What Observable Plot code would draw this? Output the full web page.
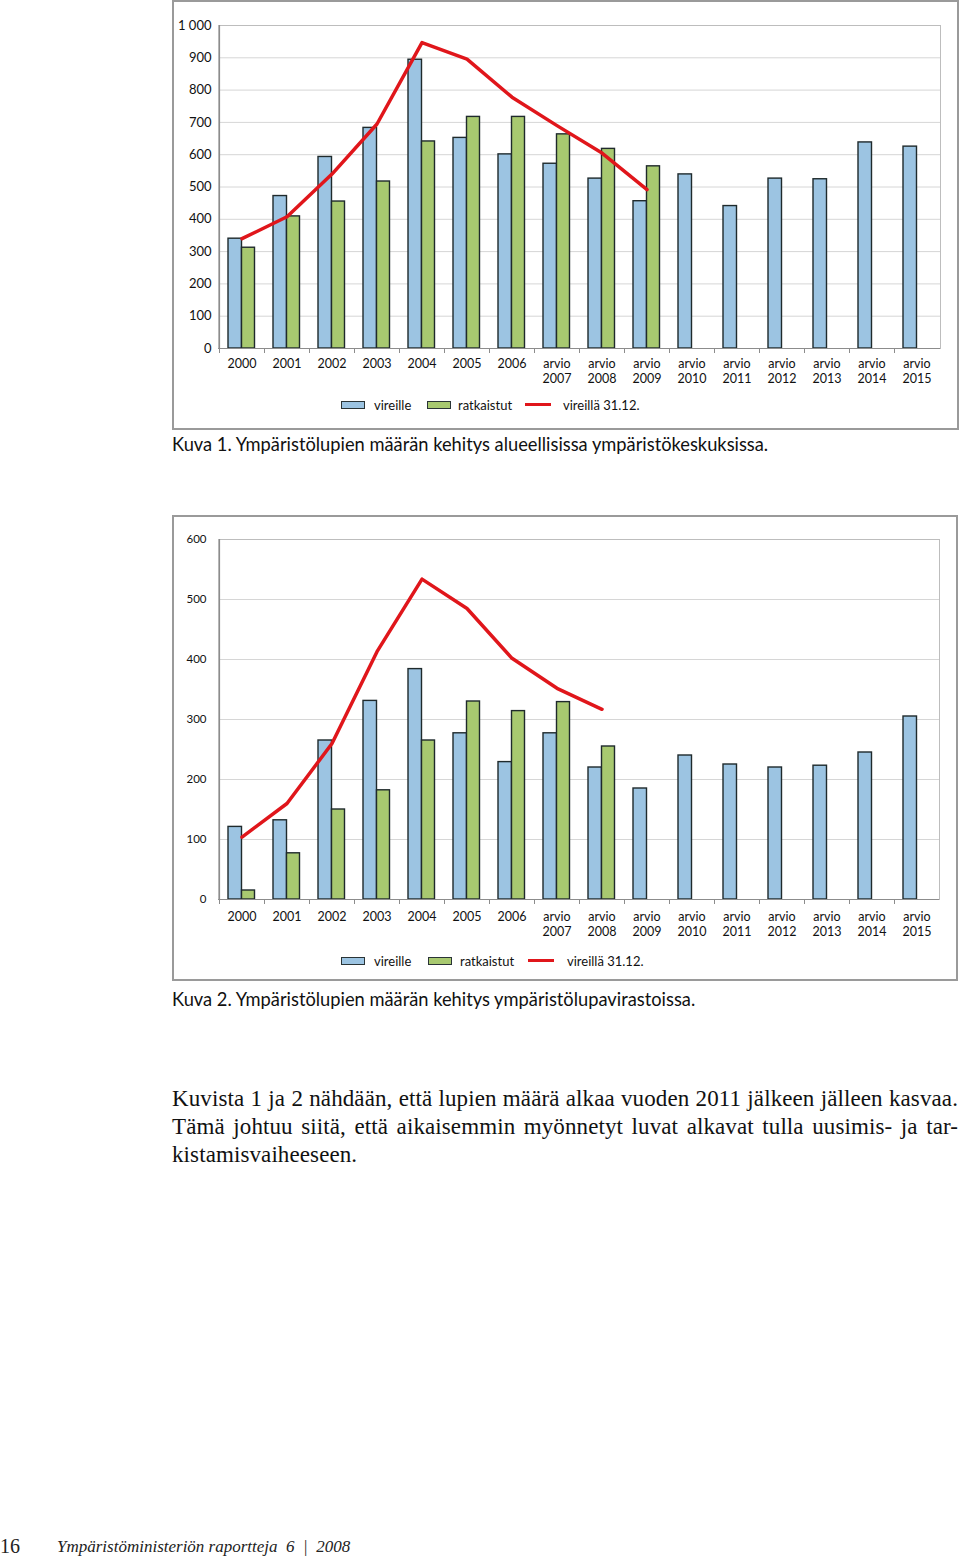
<!DOCTYPE html>
<html>
<head>
<meta charset="utf-8">
<script src="https://cdn.jsdelivr.net/npm/d3@7"></script>
<script src="https://cdn.jsdelivr.net/npm/@observablehq/plot@0.6"></script>
<style>
  html, body { margin: 0; padding: 0; background: #fff; }
  body { width: 960px; height: 1559px; position: relative; overflow: hidden; font-family: Lato, "Open Sans", sans-serif; color: #111; }
  .box { position: absolute; border: 2px solid #9a9a9a; box-sizing: border-box; }
  .chart { position: absolute; }
  .legend { position: absolute; font-family: Lato, sans-serif; font-size: 13px; color: #111; height: 16px; }
  .legend span { position: absolute; top: 0; line-height: 16px; white-space: nowrap; }
  .legend .sw { position: absolute; top: 4px; width: 22px; height: 6px; border: 1px solid #2a3436; }
  .legend .ln { position: absolute; top: 6px; width: 26px; height: 3px; background: #e0161b; }
  .caption { position: absolute; left: 172px; font-family: Lato, sans-serif; font-size: 18.3px; color: #111; white-space: nowrap; }
  .para { position: absolute; left: 172px; width: 786px; font-family: "Liberation Serif", serif; font-size: 23px; letter-spacing: 0.1px; line-height: 28px; color: #111; }
  .para div { white-space: nowrap; height: 28px; }
  .para .j { text-align: justify; text-align-last: justify; white-space: normal; }
  .footer { position: absolute; top: 1535px; font-family: "Liberation Serif", serif; color: #222; white-space: nowrap; }
</style>
</head>
<body>
<div class="box" style="left:172px; top:0px; width:787px; height:430px;"></div>
<div id="chart1" class="chart" style="left:173px; top:1px;"></div>
<div class="legend" style="left:0; top:397px; width:960px;">
  <div class="sw" style="left:341px; background:#9cc4e2;"></div><span style="left:374px;">vireille</span>
  <div class="sw" style="left:427px; background:#a8c970;"></div><span style="left:458px;">ratkaistut</span>
  <div class="ln" style="left:525px;"></div><span style="left:563px;">vireillä 31.12.</span>
</div>
<div class="caption" style="top:433px;">Kuva 1. Ympäristölupien määrän kehitys alueellisissa ympäristökeskuksissa.</div>

<div class="box" style="left:172px; top:515px; width:786px; height:466px;"></div>
<div id="chart2" class="chart" style="left:172px; top:516px;"></div>
<div class="legend" style="left:0; top:953px; width:960px;">
  <div class="sw" style="left:341px; background:#9cc4e2;"></div><span style="left:374px;">vireille</span>
  <div class="sw" style="left:428px; background:#a8c970;"></div><span style="left:460px;">ratkaistut</span>
  <div class="ln" style="left:528px;"></div><span style="left:567px;">vireillä 31.12.</span>
</div>
<div class="caption" style="top:988px;">Kuva 2. Ympäristölupien määrän kehitys ympäristölupavirastoissa.</div>

<div class="para" style="top:1085px;">
  <div class="j">Kuvista 1 ja 2 nähdään, että lupien määrä alkaa vuoden 2011 jälkeen jälleen kasvaa.</div>
  <div class="j">Tämä johtuu siitä, että aikaisemmin myönnetyt luvat alkavat tulla uusimis- ja tar-</div>
  <div>kistamisvaiheeseen.</div>
</div>

<div class="footer" style="left:0px; font-size:20px;">16</div>
<div class="footer" style="left:57px; font-size:17px; font-style:italic; top:1537px;">Ympäristöministeriön raportteja&nbsp; 6 &nbsp;|&nbsp; 2008</div>

<script>
// ---- data ----
const categories = ["2000","2001","2002","2003","2004","2005","2006",
  "arvio 2007","arvio 2008","arvio 2009","arvio 2010","arvio 2011",
  "arvio 2012","arvio 2013","arvio 2014","arvio 2015"];

// Kuva 1: alueelliset ympäristökeskukset
const vireille1   = [340, 472, 593, 683, 894, 652, 601, 572, 526, 456, 539, 441, 526, 524, 638, 625];
const ratkaistut1 = [312, 409, 455, 517, 641, 717, 717, 663, 618, 564];
const vireilla1   = [340, 408, 540, 695, 947, 896, 778, 690, 605, 492];
const yTicks1 = [0, 100, 200, 300, 400, 500, 600, 700, 800, 900, 1000];

// Kuva 2: ympäristölupavirastot
const vireille2   = [121, 132, 265, 331, 384, 277, 229, 277, 220, 185, 240, 225, 220, 223, 245, 305];
const ratkaistut2 = [15, 77, 150, 182, 265, 330, 314, 329, 255];
const vireilla2   = [104, 160, 260, 413, 534, 485, 402, 352, 317];
const yTicks2 = [0, 100, 200, 300, 400, 500, 600];

const seriesLabels = ["vireille", "ratkaistut", "vireillä 31.12."];

const BLUE = "#9cc4e2", GREEN = "#a8c970", RED = "#e0161b", EDGE = "#1f2a2c";

function rows(values) {
  return values.map((v, i) => ({cat: categories[i], value: v}));
}

function makeChart(cfg) {
  const fmt = d => d3.format(",")(d).replace(/,/g, "\u00a0");
  return Plot.plot({
    width: cfg.width, height: cfg.height,
    marginLeft: cfg.ml, marginRight: cfg.mr, marginTop: cfg.mt, marginBottom: cfg.mb,
    style: {fontFamily: "Lato, sans-serif", background: "transparent", color: "#111", overflow: "visible"},
    x: {domain: categories, padding: 0, label: null},
    y: {domain: cfg.yDomain, label: null},
    marks: [
      Plot.gridY(cfg.yTicks, {stroke: "#d6d6d6", strokeOpacity: 1}),
      Plot.frame({stroke: "#bdbdbd"}),
      Plot.barY(rows(cfg.v), {x: "cat", y: "value", fill: BLUE, stroke: EDGE, strokeWidth: 1.4, insetLeft: 9, insetRight: 22.5}),
      Plot.barY(rows(cfg.r), {x: "cat", y: "value", fill: GREEN, stroke: EDGE, strokeWidth: 1.4, insetLeft: 22.5, insetRight: 9.5}),
      Plot.ruleY([0], {stroke: "#8c8c8c", strokeWidth: 1.2}),
      Plot.ruleX(categories.slice(0, 1), {x: d => d, dx: -22.5, stroke: "#8c8c8c", strokeWidth: 1.2}),
      Plot.ruleX(categories, {x: d => d, dx: -22.5, y1: 0, y2: 0, insetBottom: -5, stroke: "#8c8c8c"}),
      Plot.lineY(rows(cfg.line), {x: "cat", y: "value", stroke: RED, strokeWidth: 3.5, strokeLinejoin: "round"}),
      Plot.axisY(cfg.yTicks, {tickSize: 0, tickPadding: cfg.yPad, tickFormat: fmt, fontSize: cfg.yFont, label: null}),
      Plot.axisX({tickSize: 0, tickPadding: cfg.xPad, tickFormat: d => d.replace(" ", "\n"), fontSize: 12.5, lineHeight: 1.2, label: null})
    ]
  });
}

document.getElementById("chart1").append(makeChart({
  width: 785, height: 389, ml: 45, mr: 18, mt: 24, mb: 42,
  yDomain: [0, 1000], yTicks: yTicks1, yPad: 7, yFont: 13, xPad: 9,
  v: vireille1, r: ratkaistut1, line: vireilla1
}));

document.getElementById("chart2").append(makeChart({
  width: 785, height: 429, ml: 46, mr: 18, mt: 23, mb: 46,
  yDomain: [0, 600], yTicks: yTicks2, yPad: 12, yFont: 11.5, xPad: 11,
  v: vireille2, r: ratkaistut2, line: vireilla2
}));
</script>
</body>
</html>
